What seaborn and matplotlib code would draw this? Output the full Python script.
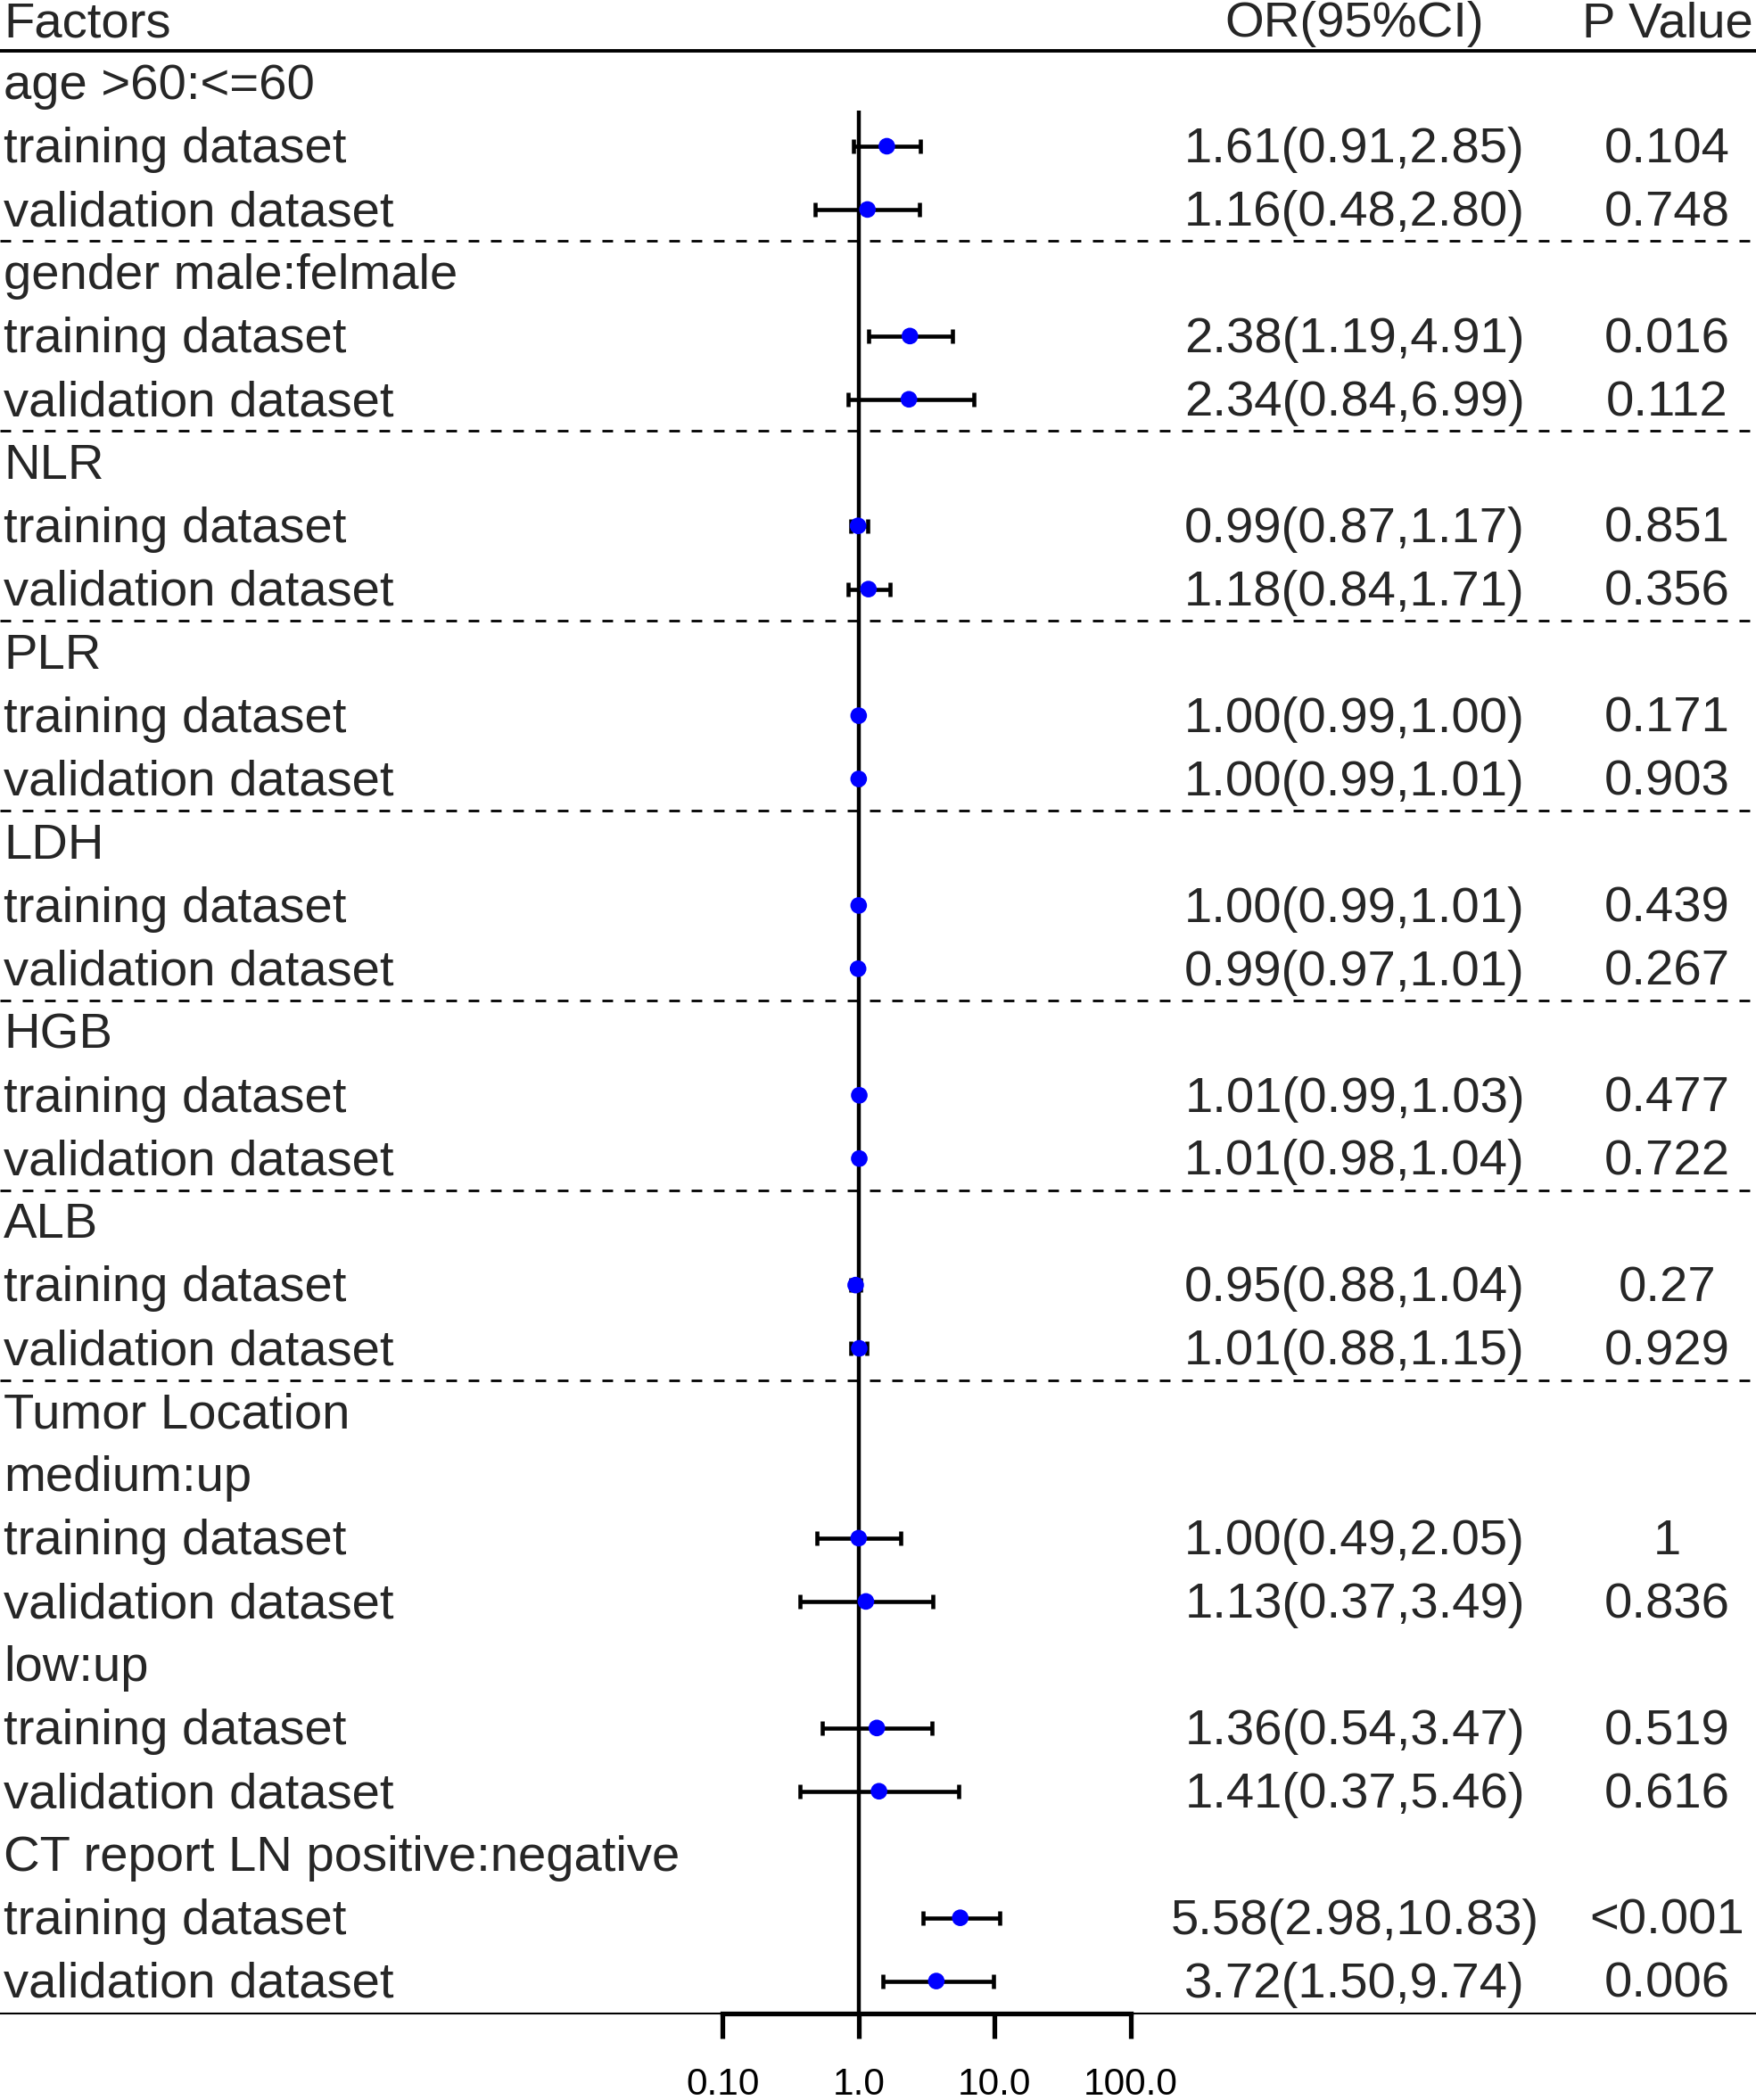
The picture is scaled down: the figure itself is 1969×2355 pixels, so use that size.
import numpy as np
import pandas as pd
import matplotlib
matplotlib.use("Agg")
import matplotlib.pyplot as plt
import seaborn as sns

# row labels, top to bottom
labels = ["age >60:<=60", "training dataset", "validation dataset",
          "gender male:felmale", "training dataset", "validation dataset",
          "NLR", "training dataset", "validation dataset",
          "PLR", "training dataset", "validation dataset",
          "LDH", "training dataset", "validation dataset",
          "HGB", "training dataset", "validation dataset",
          "ALB", "training dataset", "validation dataset",
          "Tumor Location", "medium:up", "training dataset", "validation dataset",
          "low:up", "training dataset", "validation dataset",
          "CT report LN positive:negative", "training dataset", "validation dataset"]

# rows that carry an estimate
est_rows = [1, 2, 4, 5, 7, 8, 10, 11, 13, 14, 16, 17, 19, 20, 23, 24, 26, 27, 29, 30]
odds = [1.61, 1.16, 2.38, 2.34, 0.99, 1.18, 1.00, 1.00, 1.00, 0.99,
        1.01, 1.01, 0.95, 1.01, 1.00, 1.13, 1.36, 1.41, 5.58, 3.72]
lower = [0.91, 0.48, 1.19, 0.84, 0.87, 0.84, 0.99, 0.99, 0.99, 0.97,
         0.99, 0.98, 0.88, 0.88, 0.49, 0.37, 0.54, 0.37, 2.98, 1.50]
upper = [2.85, 2.80, 4.91, 6.99, 1.17, 1.71, 1.00, 1.01, 1.01, 1.01,
         1.03, 1.04, 1.04, 1.15, 2.05, 3.49, 3.47, 5.46, 10.83, 9.74]
pvals = ["0.104", "0.748", "0.016", "0.112", "0.851", "0.356", "0.171", "0.903",
         "0.439", "0.267", "0.477", "0.722", "0.27", "0.929", "1", "0.836",
         "0.519", "0.616", "<0.001", "0.006"]

# dashed separators follow these rows
sep_after = [2, 5, 8, 11, 14, 17, 20]

tick_vals = [0.1, 1, 10, 100]
tick_labels = ["0.10", "1.0", "10.0", "100.0"]

df = pd.DataFrame({"row": est_rows, "OR": odds, "lo": lower, "hi": upper, "p": pvals})

sns.set_theme(style="white")
plt.rcParams["font.family"] = ["Liberation Sans", "DejaVu Sans"]

fig = plt.figure(figsize=(19.69, 23.55), dpi=100)
ax = fig.add_axes([0, 0, 1, 1])
ax.set_xscale("log")
ax.set_xlim(10 ** -6.313, 10 ** 6.597)
ax.set_ylim(31.88, -1.311)

fs = 40.5
dy = 0.06  # text sits a touch lower than the row centre
tr = ax.get_yaxis_transform()
x_lab, x_or, x_p = 0.002, 0.7715, 0.9495

# header
ax.text(x_lab, -0.99 + dy, "Factors", transform=tr, ha="left", va="center", fontsize=fs)
ax.text(x_or, -0.99 + dy, "OR(95%CI)", transform=tr, ha="center", va="center", fontsize=fs)
ax.text(x_p, -0.99 + dy, "P Value", transform=tr, ha="center", va="center", fontsize=fs)
ax.axhline(-0.51, color="black", lw=2.8)

# labels
for i, lab in enumerate(labels):
    ax.text(x_lab, i + dy, lab, transform=tr, ha="left", va="center", fontsize=fs)

for _, r in df.iterrows():
    ax.text(x_or, r["row"] + dy, f"{r['OR']:.2f}({r['lo']:.2f},{r['hi']:.2f})",
            transform=tr, ha="center", va="center", fontsize=fs)
    ax.text(x_p, r["row"] + dy, r["p"], transform=tr, ha="center", va="center", fontsize=fs)

for s in sep_after:
    ax.axhline(s + 0.5, color="black", lw=2, ls=(0, (4.3, 4.7)))

# reference line at OR = 1
bottom = 30.51
ax.vlines(1, 0.44, bottom, color="black", lw=3.2, zorder=2)

# confidence intervals and estimates
ax.errorbar(df["OR"], df["row"],
            xerr=[df["OR"] - df["lo"], df["hi"] - df["OR"]],
            fmt="none", ecolor="black", elinewidth=3.3, capsize=6, capthick=3.3, zorder=3)
sns.scatterplot(data=df, x="OR", y="row", ax=ax, color="blue", s=180,
                edgecolor="none", zorder=4, legend=False)

# x axis
ax.axhline(bottom, color="black", lw=1.5, zorder=1)
for side in ["top", "left", "right"]:
    ax.spines[side].set_visible(False)
ax.spines["bottom"].set_position(("data", bottom))
ax.spines["bottom"].set_bounds(0.1, 100)
ax.spines["bottom"].set_linewidth(3.8)
ax.spines["bottom"].set_color("black")
ax.set_xticks(tick_vals)
ax.set_xticklabels(tick_labels)
ax.xaxis.set_minor_locator(matplotlib.ticker.NullLocator())
ax.tick_params(axis="x", which="major", direction="out", length=20, width=3.8,
               pad=23, labelsize=30.5, colors="black", bottom=True)
ax.set_yticks([])
ax.set_xlabel("")
ax.set_ylabel("")
ax.grid(False)

fig.savefig("out.png", dpi=100)
